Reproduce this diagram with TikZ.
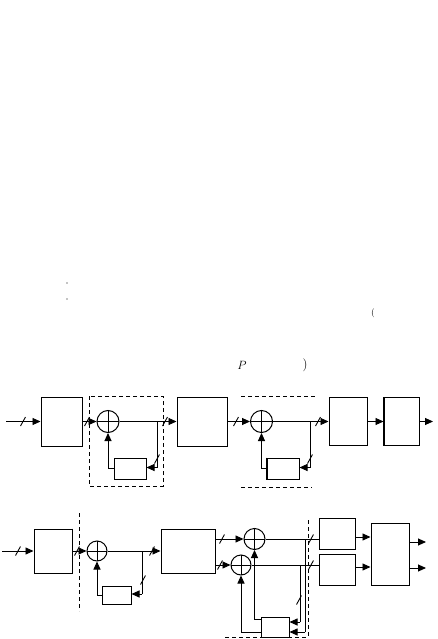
\documentclass[tikz,border=0pt]{standalone}
\usetikzlibrary{arrows.meta,calc}
\begin{document}
\begin{tikzpicture}[x=1pt,y=-1pt,
  blk/.style={draw,line width=1pt,inner sep=0pt},
  sum/.style={draw,circle,line width=1pt,inner sep=0pt,minimum size=22pt,
    path picture={\draw[line width=0.9pt] (path picture bounding box.north) -- (path picture bounding box.south) (path picture bounding box.west) -- (path picture bounding box.east);}},
  ln/.style={line width=0.9pt},
  arr/.style={line width=0.9pt,-{Triangle[length=8pt,width=7pt]}},
  dsh/.style={line width=0.8pt,dash pattern=on 4pt off 3pt},
  sl/.pic={\draw[line width=0.9pt] (-2.5,4.5) -- (2.5,-4.5);},
  txt/.style={inner sep=0pt,font=\fontsize{13}{13}\selectfont}
]
\useasboundingbox (0,0) rectangle (438,639);

% stray text remnants
\node[txt] (tP) at (242,365) {$P$};
\node[txt] (tr) at (305,365) {)};
\node[txt,font=\fontsize{9}{9}\selectfont] (tl) at (373,313) {(};
\fill (67,283) circle (0.6);
\fill (67,299) circle (0.6);

% ---------- top row ----------
\coordinate (inA) at (6,421.5);
\node[blk,minimum width=41pt,minimum height=49pt] (A1) at (61.5,421.5) {};
\node[sum] (S1) at (108,421.5) {};
\node[blk,minimum width=50pt,minimum height=49pt] (A2) at (202,421.5) {};
\node[blk,minimum width=32pt,minimum height=21pt] (D1) at (130,468.5) {};
\coordinate (P1) at (157,421.5);
\coordinate (P1d) at (157,467.5);
\node[sum] (S2) at (261.5,421.5) {};
\node[blk,minimum width=38pt,minimum height=48pt] (A3) at (348,421.5) {};
\node[blk,minimum width=35pt,minimum height=48pt] (A4) at (401.5,421.5) {};
\node[blk,minimum width=32pt,minimum height=21pt] (D2) at (283,468.5) {};
\coordinate (P2) at (310,421.5);
\coordinate (P2d) at (310,467.5);
\coordinate (outA) at (433,421.5);

\draw[line width=1.6pt] (A4.north west) -- (A4.south west);
\draw[line width=1.6pt] (D2.north west) -- (D2.south west);

\draw[arr] (inA) -- (A1);
\draw[arr] (A1) -- (S1);
\draw[ln] (S1) -- (P1);
\draw[arr] (P1) -- (A2);
\draw[ln] (P1) -- (P1d);
\draw[arr] (P1d) -- (P1d -| D1.east);
\draw[arr] (D1.west) -| (S1.south);
\draw[arr] (A2) -- (S2);
\draw[ln] (S2) -- (P2);
\draw[arr] (P2) -- (A3);
\draw[ln] (P2) -- (P2d);
\draw[arr] (P2d) -- (P2d -| D2.east);
\draw[arr] (D2.west) -| (S2.south);
\draw[arr] (A3) -- (A4);
\draw[arr] (A4) -- (outA);

\draw[dsh] (89,396) rectangle (163,486);
\draw[dsh] (241,396) -- (315,396);
\draw[dsh] (241,487) -- (312,487);

\pic at (23,421.5) {sl};
\pic at (87,421.5) {sl};
\pic at (165,421.5) {sl};
\pic at (157,459) {sl};
\pic at (236,421.5) {sl};
\pic at (318,421.5) {sl};
\pic at (310,459) {sl};

% ---------- bottom row ----------
\coordinate (inB) at (2,551);
\node[blk,minimum width=38pt,minimum height=44pt] (C1) at (53,551) {};
\node[sum,minimum size=20pt] (T1) at (97,551) {};
\node[blk,minimum width=54pt,minimum height=44pt] (C2) at (188,551) {};
\node[blk,minimum width=29pt,minimum height=18pt] (E1) at (116.5,595) {};
\coordinate (Q1) at (142,551);
\coordinate (Q1d) at (142,594);
\node[sum,minimum size=21pt] (T2) at (254.5,539) {};
\node[sum,minimum size=20pt] (T3) at (241,565) {};
\node[blk,minimum width=36pt,minimum height=31pt] (C4) at (337,533.5) {};
\node[blk,minimum width=36pt,minimum height=31pt] (C5) at (337,569.5) {};
\node[blk,minimum width=38pt,minimum height=62pt] (C6) at (390,554) {};
\node[blk,minimum width=28pt,minimum height=20pt] (E2) at (275,627) {};
\coordinate (R1) at (305,539);
\coordinate (R1d) at (305,632);
\coordinate (R2) at (300,565);
\coordinate (R2d) at (300,622);
\coordinate (oB1) at (426,542);
\coordinate (oB2) at (426,568);

\draw[line width=1.6pt] (C1.north east) -- (C1.south east);

\draw[arr] (inB) -- (C1);
\draw[arr] (C1) -- (T1);
\draw[ln] (T1) -- (Q1);
\draw[arr] (Q1) -- (C2);
\draw[ln] (Q1) -- (Q1d);
\draw[arr] (Q1d) -- (Q1d -| E1.east);
\draw[arr] (E1.west) -| (T1.south);
\draw[arr] (C2.east |- T2) -- (T2);
\draw[arr] (C2.east |- T3) -- (T3);
\draw[ln] (T2) -- (T2 -| C4.west);
\draw[ln] (T3) -- (T3 -| C5.west);
\draw[ln] (R1) -- (R1d);
\draw[arr] (R1d) -- (R1d -| E2.east);
\draw[ln] (R2) -- (R2d);
\draw[arr] (R2d) -- (R2d -| E2.east);
\draw[arr] ([yshift=8pt]E2.west) -| (T2.south);
\draw[arr] ([yshift=-5pt]E2.west) -| (T3.south);
\draw[arr] ([yshift=-3.5pt]C4.east) -- ([yshift=-3.5pt]C4.east -| C6.west);
\draw[arr] ([yshift=2.5pt]C5.east) -- ([yshift=2.5pt]C5.east -| C6.west);
\draw[arr] (C6.east |- oB1) -- (oB1);
\draw[arr] (C6.east |- oB2) -- (oB2);

\draw[dsh] (79,513) -- (79,611);
\draw[dsh] (308,520) -- (308,637);
\draw[dsh] (225,637) -- (308,637);

\pic at (18,551) {sl};
\pic at (77,551) {sl};
\pic at (152,551) {sl};
\pic at (143,580) {sl};
\pic at (222,539) {sl};
\pic at (220,565) {sl};
\pic at (311,539) {sl};
\pic at (311,565) {sl};
\pic at (299,600) {sl};
\end{tikzpicture}
\end{document}
